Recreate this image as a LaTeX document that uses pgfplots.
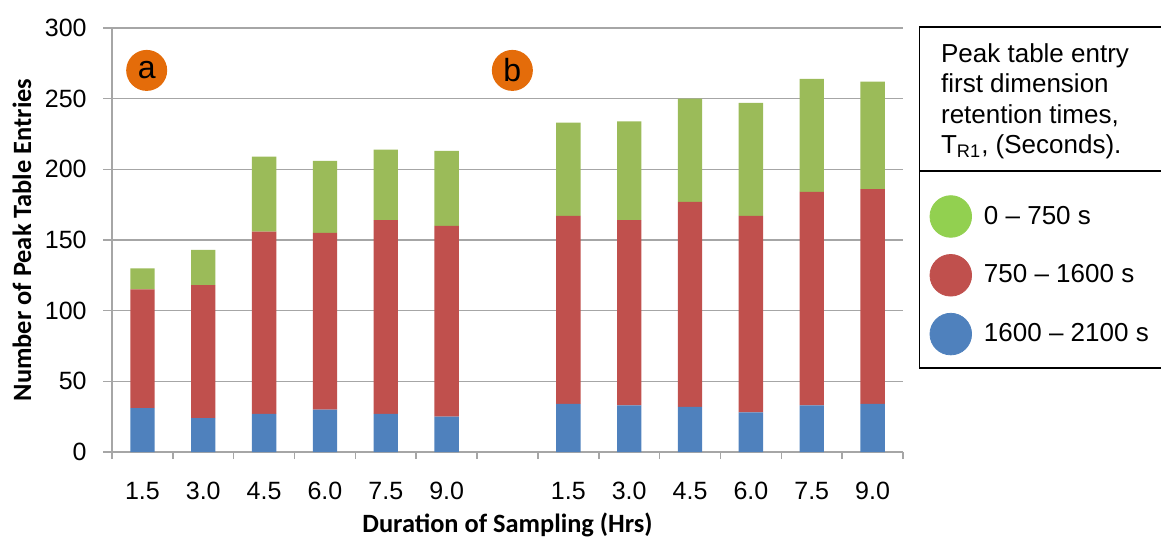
\documentclass[border=0pt]{standalone}
\usepackage{pgfplots}
\pgfplotsset{compat=1.18}
\usepackage{fontspec}
\setmainfont{Liberation Sans}
\newfontfamily\calibri{Carlito}

\definecolor{barblue}{HTML}{4F81BD}
\definecolor{barred}{HTML}{C0504D}
\definecolor{bargreen}{HTML}{9BBB59}
\definecolor{keygreen}{HTML}{92D050}
\definecolor{badge}{HTML}{E46C0A}
\definecolor{gridgray}{HTML}{A6A6A6}

% x positions: 0-5 run (a), 7-12 run (b); slot 6 left empty
\pgfplotstableread{
x  late  mid  early
0  31    84   15
1  24    94   25
2  27    129  53
3  30    125  51
4  27    137  50
5  25    135  53
7  34    133  66
8  33    131  70
9  32    145  73
10 28    139  80
11 33    151  80
12 34    152  76
}\peaks

\begin{document}
\begin{tikzpicture}
\path[use as bounding box] (0,0) rectangle (580.5pt,269pt);
\begin{axis}[
  at={(56pt,43pt)}, anchor=south west,
  scale only axis, width=395.5pt, height=212pt,
  ybar stacked, bar width=0.4,
  xmin=-0.5, xmax=12.5, ymin=0, ymax=300,
  axis x line=bottom, axis y line=left,
  axis line style={gridgray, line width=0.8pt, -},
  ytick={0,50,...,300},
  ymajorgrids, grid style={gridgray, line width=0.8pt},
  tick align=outside,
  ytick style={gridgray, line width=0.8pt},
  major tick length=4.5pt,
  xtick={0,1,2,3,4,5,7,8,9,10,11,12},
  xticklabels={1.5,3.0,4.5,6.0,7.5,9.0,1.5,3.0,4.5,6.0,7.5,9.0},
  xtick style={draw=none},
  extra x ticks={-0.5,0.5,...,12.5},
  extra x tick labels={},
  extra x tick style={xtick style={draw=gridgray, line width=0.8pt}, major tick length=3.5pt},
  /pgf/number format/assume math mode=true,
  tick label style={font=\fontsize{12.5}{14}\selectfont, black},
  xticklabel style={anchor=base, yshift=-19pt},
  yticklabel style={anchor=east, inner sep=0pt, xshift=-8pt},
  xlabel={Duration of Sampling (Hrs)},
  ylabel={Number of Peak Table Entries},
  label style={font=\calibri\bfseries\fontsize{13.2}{15}\selectfont},
  xlabel style={at={(axis description cs:0.5,-0.172)}, anchor=center},
  ylabel style={at={(axis description cs:-0.1138,0.5)}, anchor=center},
  legend style={at={(axis description cs:1.0331,0.6064)}, anchor=north west,
    draw=none, fill=none, inner sep=0pt, row sep=8.2pt,
    font=\fontsize{13}{15}\selectfont,
    nodes={inner sep=0pt}, column sep=0pt},
  legend cell align=left,
]
\addplot[fill=barblue, draw=none, forget plot] table[x=x, y=late] {\peaks};
\addplot[fill=barred, draw=none, forget plot] table[x=x, y=mid] {\peaks};
\addplot[fill=bargreen, draw=none, forget plot] table[x=x, y=early] {\peaks};

\addlegendimage{legend image code/.code={\fill[keygreen] (10.4pt,0pt) circle (10.4pt);}}
\addlegendentry{\hspace{6pt}0 -- 750 s}
\addlegendimage{legend image code/.code={\fill[barred] (10.4pt,0pt) circle (10.4pt);}}
\addlegendentry{\hspace{6pt}750 -- 1600 s}
\addlegendimage{legend image code/.code={\fill[barblue] (10.4pt,0pt) circle (10.4pt);}}
\addlegendentry{\hspace{6pt}1600 -- 2100 s}

\node[circle, fill=badge, minimum size=20.5pt, inner sep=0pt,
  font=\fontsize{16}{16}\selectfont] at (axis cs:0.07,270) {a};
\node[circle, fill=badge, minimum size=20.5pt, inner sep=0pt,
  font=\fontsize{16}{16}\selectfont] at (axis cs:6.08,270) {b};
\end{axis}

% key frame with its heading
\draw[line width=0.8pt] (585pt,255.65pt) -- (459.65pt,255.65pt) -- (459.65pt,85pt) -- (585pt,85pt);
\draw[line width=0.8pt] (459.65pt,183.65pt) -- (585pt,183.65pt);
\node[anchor=north west, inner sep=0pt, align=left,
  font=\fontsize{13}{15.2}\selectfont] at (470.35pt,247.4pt)
  {Peak table entry\\first dimension\\retention times,\\T\textsubscript{R1}, (Seconds).};
\end{tikzpicture}
\end{document}
